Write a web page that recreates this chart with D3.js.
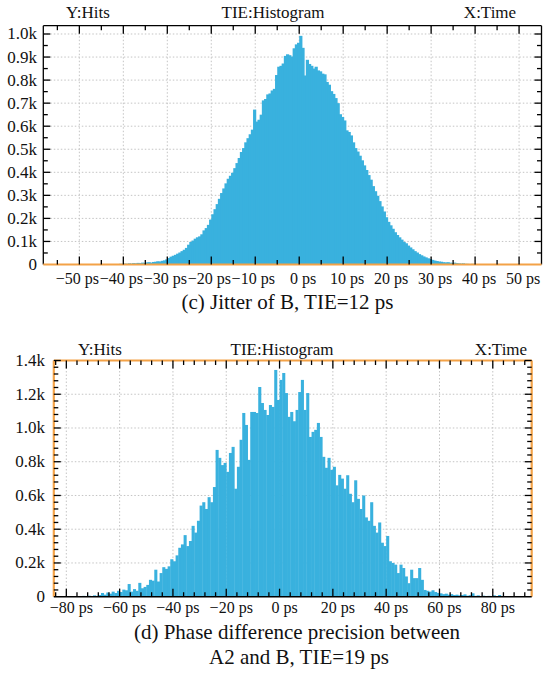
<!DOCTYPE html>
<html><head><meta charset="utf-8">
<script src="https://cdn.jsdelivr.net/npm/d3@7"></script>
<style>
svg text, text { font-family: "Liberation Serif", "Times New Roman", Times, serif !important; }
</style>
</head><body style="margin:0">
<svg id="c" width="544" height="679"></svg>
<script>
// ---------- DATA ----------
// (c) Jitter of B : histogram, bins of 0.5 ps starting at -42 ps
const binStartC = -42, binWidthC = 0.5;
const hitsC = [2,0,3,2,4,3,5,4,6,5,7,6,8,7,9,10,8,11,12,14,13,16,18,22,28,
  34,38,42,47,52,58,64,72,86,98,104,112,118,122,131,148,158,172,195,218,
  240,262,285,310,330,352,372,385,398,418,440,462,488,505,530,548,565,585,672,620,
  628,650,712,718,738,742,755,762,822,858,862,872,905,912,908,902,938,955,962,992,
  940,820,888,870,862,850,858,842,838,828,825,792,780,752,740,722,700,652,640,625,
  582,575,560,530,505,490,472,452,430,410,388,368,340,318,298,275,252,230,205,185,
  170,155,140,128,118,108,98,92,82,74,66,58,52,45,40,35,31,27,24,20,
  17,15,13,12,10,9,10,8,7,8,6,5,4,5,3,3,2,3,1,2];
const xTicksC = [-50,-40,-30,-20,-10,0,10,20,30,40,50];
const xMinorC = [-55,-45,-35,-25,-15,-5,5,15,25,35,45];
const yTicksC = [0,100,200,300,400,500,600,700,800,900,1000];
const yMinorC = [50,150,250,350,450,550,650,750,850,950];

// (d) Phase difference A2-B : histogram, bins of 1 ps starting at -82 ps
const binStartD = -82, binWidthD = 1;
const hitsD = [0,3,0,2,0,4,0,3,5,0,6,4,8,5,10,
  22,12,25,18,30,22,35,28,42,38,
  75,30,45,35,82,50,58,70,100,95,
  160,90,140,175,165,180,222,210,245,290,
  310,365,300,330,420,380,450,540,560,520,
  590,560,650,870,823,780,793,740,852,888,
  640,770,930,1089,1018,811,1095,1095,1089,1243,
  1148,1107,1077,1136,1125,1344,1166,1285,1326,1207,
  1066,1095,1040,1107,1213,1285,1107,1207,947,977,
  989,1030,947,829,764,823,752,770,660,722,
  700,640,720,610,560,690,580,520,600,470,
  450,560,420,380,440,320,300,360,210,200,
  190,140,190,170,120,80,160,110,110,170,
  100,40,35,30,38,28,22,20,15,18,
  12,15,10,12,8,10,14,6,9,20,
  5,8,4,6,3,5,2,8,3,10,2,4,0,3];
const xTicksD = [-80,-60,-40,-20,0,20,40,60,80];
const xMinorD = [-84,-76,-72,-68,-64,-56,-52,-48,-44,-36,-32,-28,-24,-16,-12,-8,-4,4,8,12,16,24,28,32,36,44,48,52,56,64,68,72,76,84,88,92];
const yTicksD = [0,200,400,600,800,1000,1200,1400];
const yMinorD = [40,80,120,160,240,280,320,360,440,480,520,560,640,680,720,760,840,880,920,960,1040,1080,1120,1160,1240,1280,1320,1360];

const headerLabels = ["Y:Hits","TIE:Histogram","X:Time"];
const captionC = ["(c) Jitter of B, TIE=12 ps"];
const captionD = ["(d) Phase difference precision between","A2 and B, TIE=19 ps"];

// ---------- DRAW ----------
const svg = d3.select("#c");
const BAR = "#39b1de", ORANGE = "#f3a247", GRID = "#c4c4c4";
const SERIF = "\"Liberation Serif\", \"Times New Roman\", Times, serif";
const fmtY = v => v === 0 ? "0" : (v/1000).toFixed(1) + "k";
const fmtX = v => (v < 0 ? "\u2212" + Math.abs(v) : v) + " ps";
const textItems = [];

function panel(o){
  const g = svg.append("g");
  const x = d3.scaleLinear().domain(o.xDom).range([o.left, o.right]);
  const y = d3.scaleLinear().domain(o.yDom).range([o.bottom, o.top]);

  // grid
  g.append("g").selectAll("line").data(o.xTicks).join("line")
    .attr("x1", d => x(d)).attr("x2", d => x(d)).attr("y1", o.top).attr("y2", o.bottom)
    .attr("stroke", GRID).attr("stroke-width", 1).attr("stroke-dasharray", "1.5,2");
  g.append("g").selectAll("line").data(o.yTicks.filter(v => v > 0)).join("line")
    .attr("x1", o.left).attr("x2", o.right).attr("y1", d => y(d)).attr("y2", d => y(d))
    .attr("stroke", GRID).attr("stroke-width", 1).attr("stroke-dasharray", "1.5,2");

  // bars
  const bins = o.hits.map((h, i) => ({x0: o.binStart + i*o.binW, h}));
  g.append("g").selectAll("rect").data(bins.filter(d => d.h > 0)).join("rect")
    .attr("x", d => x(d.x0)).attr("width", d => x(d.x0 + o.binW) - x(d.x0) + o.overlap)
    .attr("y", d => y(d.h)).attr("height", d => y(0) - y(d.h))
    .attr("fill", BAR);

  // frame
  const fr = g.append("g");
  const side = (x1,y1,x2,y2,c,w) => fr.append("line").attr("x1",x1).attr("y1",y1).attr("x2",x2).attr("y2",y2).attr("stroke",c).attr("stroke-width",w);
  side(o.left, o.top, o.right, o.top, o.frameColor, o.frameW);
  side(o.left, o.top, o.left, o.bottom, o.frameColor, o.frameW);
  side(o.right, o.top, o.right, o.bottom, o.frameColor, o.frameW);
  side(o.left, o.bottom, o.right, o.bottom, o.bottomColor, o.bottomW);

  // inward ticks drawn from the scales
  const tk = g.append("g").attr("stroke", "#000").attr("stroke-width", 1.3);
  const vt = (vals, len) => {
    tk.append("g").selectAll("line").data(vals).join("line")
      .attr("x1", d => x(d)).attr("x2", d => x(d)).attr("y1", o.bottom).attr("y2", o.bottom - len);
    tk.append("g").selectAll("line").data(vals).join("line")
      .attr("x1", d => x(d)).attr("x2", d => x(d)).attr("y1", o.top).attr("y2", o.top + len);
  };
  const ht = (vals, len) => {
    tk.append("g").selectAll("line").data(vals).join("line")
      .attr("y1", d => y(d)).attr("y2", d => y(d)).attr("x1", o.left).attr("x2", o.left + len);
    tk.append("g").selectAll("line").data(vals).join("line")
      .attr("y1", d => y(d)).attr("y2", d => y(d)).attr("x1", o.right).attr("x2", o.right - len);
  };
  vt(o.xTicks, 8); vt(o.xMinor, 4.5);
  ht(o.yTicks.filter(v => v > 0), 7); ht(o.yMinor, 4.5);

  // collect texts
  o.xTicks.forEach(v => textItems.push({x: x(v) + o.labelDx(v), y: o.xLabelY, s: 16, a: "middle", t: fmtX(v)}));
  o.yTicks.forEach(v => textItems.push({x: o.yLabelX, y: y(v) + 5.5, s: 17, a: "end", t: fmtY(v)}));
  headerLabels.forEach((t, i) => textItems.push({x: o.headerX[i], y: o.headerY, s: 17, a: "middle", t}));
  o.caption.forEach((t, i) => textItems.push({x: o.capX[i], y: o.capY[i], s: 21, a: "middle", t}));
}

panel({
  xDom: [-58.2, 55.1], yDom: [0, 1036],
  left: 43.3, right: 541.5, top: 25.7, bottom: 264.5,
  hits: hitsC, binStart: binStartC, binW: binWidthC, overlap: 1,
  xTicks: xTicksC, xMinor: xMinorC, yTicks: yTicksC, yMinor: yMinorC,
  frameColor: "#000", frameW: 1.3, bottomColor: ORANGE, bottomW: 2.2,
  labelDx: d => d < 0 ? -2 : 4, xLabelY: 283.5, yLabelX: 37,
  headerX: [88, 273, 490], headerY: 17.5,
  caption: captionC, capX: [287.5], capY: [309]
});

panel({
  xDom: [-84.7, 94.6], yDom: [0, 1400],
  left: 53.8, right: 531.7, top: 360.5, bottom: 596.7,
  hits: hitsD, binStart: binStartD, binW: binWidthD, overlap: 0.4,
  xTicks: xTicksD, xMinor: xMinorD, yTicks: yTicksD, yMinor: yMinorD,
  frameColor: ORANGE, frameW: 2.2, bottomColor: "#000", bottomW: 1.6,
  labelDx: d => 5, xLabelY: 613, yLabelX: 45,
  headerX: [100, 282, 501], headerY: 355,
  caption: captionD, capX: [297, 299], capY: [639, 664]
});

svg.selectAll("text.lbl").data(textItems).join("text")
  .attr("class", "lbl")
  .attr("x", d => d.x).attr("y", d => d.y)
  .attr("font-size", d => d.s)
  .attr("font-family", "Liberation Serif")
  .style("font-family", SERIF, "important")
  .attr("text-anchor", d => d.a)
  .attr("fill", "#111")
  .text(d => d.t);
</script>
</body></html>
